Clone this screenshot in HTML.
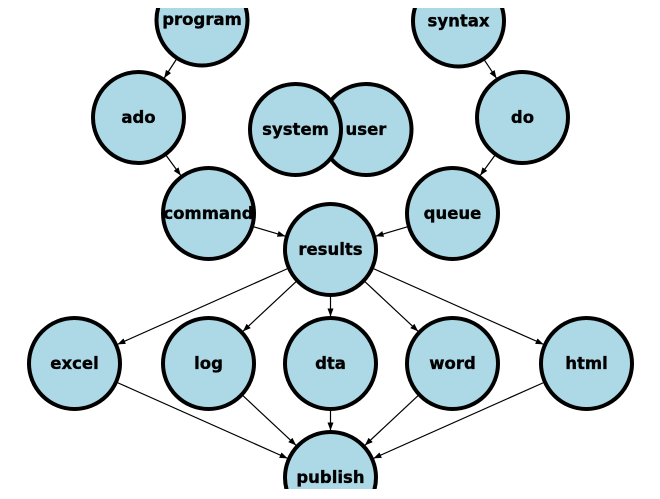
<!DOCTYPE html>
<html>
<head>
<meta charset="utf-8">
<style>
  html, body { margin: 0; padding: 0; background: #ffffff; }
  svg { display: block; }
  text { font-family: "DejaVu Sans", "Liberation Sans", sans-serif; font-weight: bold; font-size: 16.5px; fill: #000; stroke: #000; stroke-width: 0.35px; }
</style>
</head>
<body>
<svg width="660" height="499" viewBox="0 0 660 499" xmlns="http://www.w3.org/2000/svg">
  <defs>
    <clipPath id="ax">
      <rect x="0" y="8" width="660" height="481"/>
    </clipPath>
    <marker id="ah" markerUnits="userSpaceOnUse" markerWidth="9" markerHeight="7" refX="8" refY="3" orient="auto">
      <path d="M0,0 L8,3 L0,6 z" fill="#000"/>
    </marker>
  </defs>
  <g clip-path="url(#ax)">
    <g stroke="#000" stroke-width="1.2" fill="none" marker-end="url(#ah)">
      <line x1="176.35" y1="59.39" x2="164.15" y2="78.11"/>
      <line x1="166.19" y1="155.48" x2="180.81" y2="175.52"/>
      <line x1="253.58" y1="226.8" x2="285.42" y2="236.2"/>
      <line x1="484.48" y1="60.17" x2="496.52" y2="78.33"/>
      <line x1="494.81" y1="155.48" x2="480.19" y2="175.52"/>
      <line x1="407.42" y1="226.8" x2="375.58" y2="236.2"/>
      <line x1="287.57" y1="268.62" x2="117.43" y2="344.38"/>
      <line x1="296.16" y1="281.59" x2="242.84" y2="331.41"/>
      <line x1="330.5" y1="296.5" x2="330.5" y2="316.5"/>
      <line x1="364.84" y1="281.59" x2="418.16" y2="331.41"/>
      <line x1="373.43" y1="268.62" x2="543.57" y2="344.38"/>
      <line x1="117.43" y1="382.62" x2="287.57" y2="458.38"/>
      <line x1="242.84" y1="395.59" x2="296.16" y2="445.41"/>
      <line x1="330.5" y1="410.5" x2="330.5" y2="430.5"/>
      <line x1="418.16" y1="395.59" x2="364.84" y2="445.41"/>
      <line x1="543.57" y1="382.62" x2="373.43" y2="458.38"/>
    </g>
    <g fill="#add8e6" stroke="#000" stroke-width="4">
      <circle cx="202" cy="20" r="45.5"/>
      <circle cx="458.5" cy="21" r="45.5"/>
      <circle cx="138.5" cy="117.5" r="45.5"/>
      <circle cx="522.5" cy="117.5" r="45.5"/>
      <circle cx="366" cy="129.5" r="45.5"/>
      <circle cx="295.5" cy="129.5" r="45.5"/>
      <circle cx="208.5" cy="213.5" r="45.5"/>
      <circle cx="452.5" cy="213.5" r="45.5"/>
      <circle cx="330.5" cy="249.5" r="45.5"/>
      <circle cx="74.5" cy="363.5" r="45.5"/>
      <circle cx="208.5" cy="363.5" r="45.5"/>
      <circle cx="330.5" cy="363.5" r="45.5"/>
      <circle cx="452.5" cy="363.5" r="45.5"/>
      <circle cx="586.5" cy="363.5" r="45.5"/>
      <circle cx="330.5" cy="477.5" r="45.5"/>
    </g>
    <g text-anchor="middle">
      <text x="202" y="25">program</text>
      <text x="458.5" y="26.5">syntax</text>
      <text x="138.5" y="123">ado</text>
      <text x="522.5" y="123">do</text>
      <text x="366" y="135">user</text>
      <text x="295.5" y="135">system</text>
      <text x="208.5" y="219">command</text>
      <text x="452.5" y="219">queue</text>
      <text x="330.5" y="255">results</text>
      <text x="74.5" y="369">excel</text>
      <text x="208.5" y="369">log</text>
      <text x="330.5" y="369">dta</text>
      <text x="452.5" y="369">word</text>
      <text x="586.5" y="369">html</text>
      <text x="330.5" y="483">publish</text>
    </g>
  </g>
</svg>
</body>
</html>
